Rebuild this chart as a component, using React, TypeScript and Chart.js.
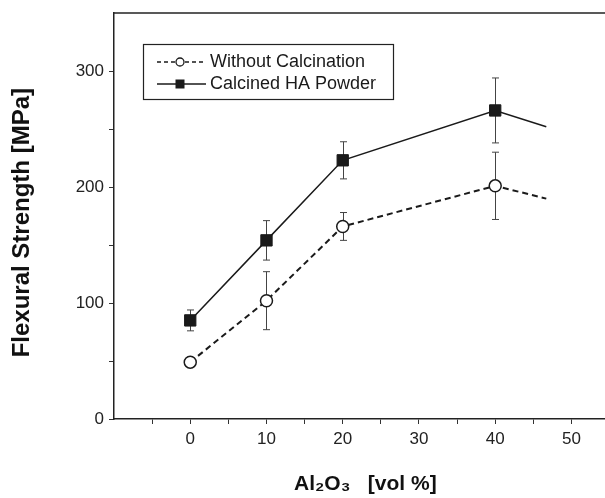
import React, { useEffect, useRef } from "react";
import { Chart, registerables } from "chart.js";

Chart.register(...registerables);

// ---- data ----
const xValues = [0, 10, 20, 40, 46.7];
const withoutCalcination = [49, 102, 166, 201, 190];
const withoutCalcinationErr = [3, 25, 12, 29, 0];
const calcinedHA = [85, 154, 223, 266, 252];
const calcinedHAErr = [9, 17, 16, 28, 0];
const markerShown = [true, true, true, true, false];
const seriesLabels = ["Without Calcination", "Calcined HA Powder"];

const xTickValues = [-5, 0, 5, 10, 15, 20, 25, 30, 35, 40, 45, 50];
const xTickLabels = ["", "0", "", "10", "", "20", "", "30", "", "40", "", "50"];
const yTickValues = [0, 50, 100, 150, 200, 250, 300];
const yTickLabels = ["0", "", "100", "", "200", "", "300"];
const xTitle = "  Al\u2082O\u2083   [vol %]";
const yTitle = "Flexural Strength [MPa]  ";

const FONT = "'Liberation Sans', Arial, Helvetica, sans-serif";
const INK = "#1a1a1a";

const errorBarPlugin = {
  id: "errorBars",
  beforeDatasetsDraw(chart: any) {
    const ctx = chart.ctx;
    const xs = chart.scales.x;
    const ys = chart.scales.y;
    const sets: [number[], number[]][] = [
      [withoutCalcination, withoutCalcinationErr],
      [calcinedHA, calcinedHAErr],
    ];
    ctx.save();
    ctx.strokeStyle = "#444";
    ctx.lineWidth = 1;
    sets.forEach(([vals, errs]) => {
      vals.forEach((v, i) => {
        if (!errs[i]) return;
        const px = Math.round(xs.getPixelForValue(xValues[i])) + 0.5;
        const top = ys.getPixelForValue(v + errs[i]);
        const bot = ys.getPixelForValue(v - errs[i]);
        ctx.beginPath();
        ctx.moveTo(px, top);
        ctx.lineTo(px, bot);
        ctx.moveTo(px - 3.5, top);
        ctx.lineTo(px + 3.5, top);
        ctx.moveTo(px - 3.5, bot);
        ctx.lineTo(px + 3.5, bot);
        ctx.stroke();
      });
    });
    ctx.restore();
  },
};

const framePlugin = {
  id: "frameAndLegend",
  afterDraw(chart: any) {
    const ctx = chart.ctx;
    const area = chart.chartArea;
    ctx.save();
    // top frame line
    ctx.strokeStyle = "#222";
    ctx.lineWidth = 1.5;
    ctx.beginPath();
    ctx.moveTo(area.left, area.top);
    ctx.lineTo(chart.width, area.top);
    ctx.stroke();

    // legend box
    ctx.lineWidth = 1.2;
    ctx.strokeRect(143.5, 44.5, 250, 55);

    // row 1: dashed + open circle
    ctx.strokeStyle = INK;
    ctx.lineWidth = 1.5;
    ctx.setLineDash([4, 3]);
    ctx.beginPath();
    ctx.moveTo(157, 62);
    ctx.lineTo(206, 62);
    ctx.stroke();
    ctx.setLineDash([]);
    ctx.beginPath();
    ctx.arc(180, 62, 4, 0, Math.PI * 2);
    ctx.fillStyle = "#fff";
    ctx.fill();
    ctx.lineWidth = 1.3;
    ctx.stroke();

    // row 2: solid + filled square
    ctx.lineWidth = 1.3;
    ctx.beginPath();
    ctx.moveTo(157, 84);
    ctx.lineTo(206, 84);
    ctx.stroke();
    ctx.fillStyle = INK;
    ctx.fillRect(175.5, 79.5, 9, 9);

    ctx.fillStyle = INK;
    ctx.font = `18px ${FONT}`;
    ctx.textBaseline = "middle";
    ctx.textAlign = "left";
    ctx.fillText(seriesLabels[0], 210, 62);
    ctx.fillText(seriesLabels[1], 210, 84);
    ctx.restore();
  },
};

export default function App() {
  const ref = useRef<HTMLCanvasElement | null>(null);

  useEffect(() => {
    if (!ref.current) return;
    const radiusCircle = markerShown.map((s) => (s ? 6 : 0));
    const radiusRect = markerShown.map((s) => (s ? 8 : 0));
    const chart = new Chart(ref.current, {
      type: "line",
      data: {
        datasets: [
          {
            label: seriesLabels[0],
            data: xValues.map((x, i) => ({ x, y: withoutCalcination[i] })),
            borderColor: INK,
            borderWidth: 2,
            borderDash: [6, 4],
            pointStyle: "circle",
            pointRadius: radiusCircle,
            pointBackgroundColor: "#fff",
            pointBorderColor: INK,
            pointBorderWidth: 1.5,
            tension: 0,
            fill: false,
            clip: false,
          },
          {
            label: seriesLabels[1],
            data: xValues.map((x, i) => ({ x, y: calcinedHA[i] })),
            borderColor: INK,
            borderWidth: 1.5,
            pointStyle: "rect",
            pointRadius: radiusRect,
            pointBackgroundColor: INK,
            pointBorderColor: INK,
            pointBorderWidth: 1,
            tension: 0,
            fill: false,
            clip: false,
          },
        ],
      },
      options: {
        animation: false,
        responsive: false,
        maintainAspectRatio: false,
        layout: { autoPadding: false, padding: { top: 13, right: 0, left: 0, bottom: 0 } },
        plugins: {
          legend: { display: false },
          tooltip: { enabled: false },
        },
        scales: {
          x: {
            type: "linear",
            min: -10,
            max: 54.4,
            afterFit: (s: any) => {
              s.height = 79;
              s.paddingLeft = 0;
              s.paddingRight = 0;
            },
            afterBuildTicks: (s: any) => {
              s.ticks = xTickValues.map((v) => ({ value: v }));
            },
            grid: {
              drawOnChartArea: false,
              drawTicks: true,
              tickLength: 5,
              color: "#333",
              lineWidth: 1,
            },
            border: { display: true, color: "#222", width: 1.5 },
            ticks: {
              autoSkip: false,
              maxRotation: 0,
              padding: 5,
              color: "#222",
              font: { family: FONT, size: 17 },
              callback: (v: any) => {
                const i = xTickValues.indexOf(Number(v));
                return i >= 0 ? xTickLabels[i] : "";
              },
            },
            title: {
              display: true,
              text: xTitle,
              color: "#111",
              font: { family: FONT, size: 21, weight: "bold" },
              padding: { top: 0, bottom: 1 },
            },
          },
          y: {
            type: "linear",
            min: 0,
            max: 350,
            afterFit: (s: any) => {
              s.width = 114;
              s.paddingTop = 0;
              s.paddingBottom = 0;
            },
            afterBuildTicks: (s: any) => {
              s.ticks = yTickValues.map((v) => ({ value: v }));
            },
            grid: {
              drawOnChartArea: false,
              drawTicks: true,
              tickLength: 5,
              color: "#333",
              lineWidth: 1,
            },
            border: { display: true, color: "#222", width: 1.5 },
            ticks: {
              autoSkip: false,
              padding: 5,
              color: "#222",
              font: { family: FONT, size: 17 },
              callback: (v: any) => {
                const i = yTickValues.indexOf(Number(v));
                return i >= 0 ? yTickLabels[i] : "";
              },
            },
            title: {
              display: true,
              text: yTitle,
              color: "#111",
              font: { family: FONT, size: 24, weight: "bold" },
              padding: { top: 8, bottom: 0 },
            },
          },
        },
      },
      plugins: [errorBarPlugin, framePlugin],
    } as any);
    return () => chart.destroy();
  }, []);

  return (
    <div style={{ position: "fixed", left: 0, top: 0, width: 605, height: 498, background: "#fff" }}>
      <canvas ref={ref} width={605} height={498} style={{ display: "block" }} />
    </div>
  );
}
